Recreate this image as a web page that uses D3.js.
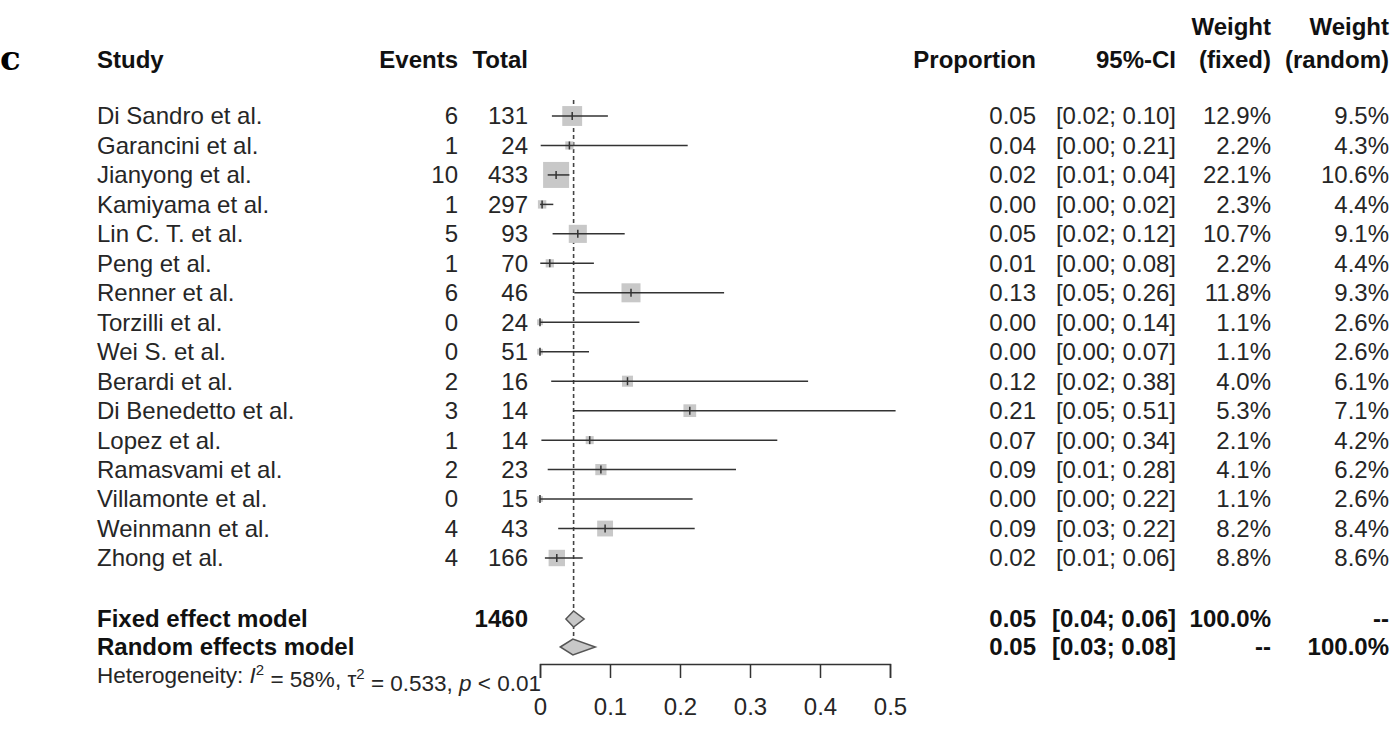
<!DOCTYPE html>
<html lang="en">
  <head>
    <meta charset="UTF-8" />
    <title>Forest plot</title>
    <script src="https://d3js.org/d3.v7.min.js"></script>
    <style>
      body {
        margin: 0;
        background: #fff;
        font-family: "Liberation Sans", Arial, sans-serif;
      }
      text {
        font-size: 24px;
        fill: #262626;
      }
      .bold {
        font-weight: bold;
        fill: #111;
      }
    </style>
  </head>
  <body>
    <svg id="chart" width="1392" height="737"></svg>
    <script>
      const studies = [
        "Di Sandro et al.", "Garancini et al.", "Jianyong et al.", "Kamiyama et al.",
        "Lin C. T. et al.", "Peng et al.", "Renner et al.", "Torzilli et al.",
        "Wei S. et al.", "Berardi et al.", "Di Benedetto et al.", "Lopez et al.",
        "Ramasvami et al.", "Villamonte et al.", "Weinmann et al.", "Zhong et al."
      ];
      const events = [6, 1, 10, 1, 5, 1, 6, 0, 0, 2, 3, 1, 2, 0, 4, 4];
      const totals = [131, 24, 433, 297, 93, 70, 46, 24, 51, 16, 14, 14, 23, 15, 43, 166];
      const proportion = [0.046, 0.042, 0.023, 0.003, 0.054, 0.014, 0.130, 0, 0, 0.125, 0.214, 0.071, 0.087, 0, 0.093, 0.024];
      const ciLower = [0.017, 0.001, 0.011, 0.0001, 0.018, 0.0004, 0.049, 0, 0, 0.016, 0.047, 0.002, 0.011, 0, 0.026, 0.007];
      const ciUpper = [0.097, 0.211, 0.042, 0.019, 0.121, 0.077, 0.263, 0.142, 0.070, 0.383, 0.508, 0.339, 0.280, 0.218, 0.221, 0.061];
      const propLabels = ["0.05", "0.04", "0.02", "0.00", "0.05", "0.01", "0.13", "0.00", "0.00", "0.12", "0.21", "0.07", "0.09", "0.00", "0.09", "0.02"];
      const ciLabels = [
        "[0.02; 0.10]", "[0.00; 0.21]", "[0.01; 0.04]", "[0.00; 0.02]", "[0.02; 0.12]",
        "[0.00; 0.08]", "[0.05; 0.26]", "[0.00; 0.14]", "[0.00; 0.07]", "[0.02; 0.38]",
        "[0.05; 0.51]", "[0.00; 0.34]", "[0.01; 0.28]", "[0.00; 0.22]", "[0.03; 0.22]", "[0.01; 0.06]"
      ];
      const weightFixed = [12.9, 2.2, 22.1, 2.3, 10.7, 2.2, 11.8, 1.1, 1.1, 4.0, 5.3, 2.1, 4.1, 1.1, 8.2, 8.8];
      const weightRandom = [9.5, 4.3, 10.6, 4.4, 9.1, 4.4, 9.3, 2.6, 2.6, 6.1, 7.1, 4.2, 6.2, 2.6, 8.4, 8.6];

      const models = ["Fixed effect model", "Random effects model"];
      const modelEst = [0.048, 0.047];
      const modelLower = [0.037, 0.029];
      const modelUpper = [0.063, 0.079];
      const modelProp = ["0.05", "0.05"];
      const modelCI = ["[0.04; 0.06]", "[0.03; 0.08]"];
      const modelWFixed = ["100.0%", "--"];
      const modelWRandom = ["--", "100.0%"];
      const totalN = 1460;
      const xTicks = [0, 0.1, 0.2, 0.3, 0.4, 0.5];

      const svg = d3.select("#chart");
      const fmtPct = (d) => d.toFixed(1) + "%";

      const x = d3.scaleLinear().domain([0, 0.5]).range([540, 890]);
      const rowY = d3.scaleLinear().domain([0, 15]).range([116, 558]);
      const modelY = d3.scalePoint().domain(models).range([619, 647]);
      const boxSize = d3.scaleSqrt().domain([0, 22.1]).range([0, 26]);

      // column edges (left for study, right for the rest)
      const col = { study: 97, events: 458, total: 528, prop: 1036, ci: 1176, wf: 1271, wr: 1389 };

      function txt(x0, y0, s, anchor, cls) {
        return svg.append("text")
          .attr("x", x0).attr("y", y0)
          .attr("dy", "0.35em")
          .attr("text-anchor", anchor || "start")
          .attr("class", cls || null)
          .text(s);
      }

      // panel letter
      svg.append("text")
        .attr("x", 0).attr("y", 70)
        .style("font-family", "'DejaVu Serif', serif")
        .style("font-weight", "bold")
        .style("font-size", "34px")
        .style("fill", "#000")
        .text("c");

      // headers
      txt(col.study, 60, "Study", "start", "bold");
      txt(col.events, 60, "Events", "end", "bold");
      txt(col.total, 60, "Total", "end", "bold");
      txt(col.prop, 60, "Proportion", "end", "bold");
      txt(col.ci, 60, "95%-CI", "end", "bold");
      txt(col.wf, 27, "Weight", "end", "bold");
      txt(col.wf, 60, "(fixed)", "end", "bold");
      txt(col.wr, 27, "Weight", "end", "bold");
      txt(col.wr, 60, "(random)", "end", "bold");

      // reference line at the pooled estimate
      svg.append("line")
        .attr("x1", x(modelEst[0])).attr("x2", x(modelEst[0]))
        .attr("y1", 100).attr("y2", modelY(models[1]))
        .attr("stroke", "#444").attr("stroke-width", 1.6)
        .attr("stroke-dasharray", "4,3");

      // study rows
      studies.forEach((s, i) => {
        const y0 = rowY(i);
        txt(col.study, y0, s);
        txt(col.events, y0, events[i], "end");
        txt(col.total, y0, totals[i], "end");
        txt(col.prop, y0, propLabels[i], "end");
        txt(col.ci, y0, ciLabels[i], "end");
        txt(col.wf, y0, fmtPct(weightFixed[i]), "end");
        txt(col.wr, y0, fmtPct(weightRandom[i]), "end");

        const b = boxSize(weightFixed[i]);
        svg.append("rect")
          .attr("x", x(proportion[i]) - b / 2)
          .attr("y", y0 - b / 2)
          .attr("width", b).attr("height", b)
          .attr("fill", "#c8c8c8");
        svg.append("line")
          .attr("x1", x(ciLower[i])).attr("x2", x(ciUpper[i]))
          .attr("y1", y0).attr("y2", y0)
          .attr("stroke", "#333").attr("stroke-width", 1.5);
        svg.append("line")
          .attr("x1", x(proportion[i])).attr("x2", x(proportion[i]))
          .attr("y1", y0 - 4).attr("y2", y0 + 4)
          .attr("stroke", "#333").attr("stroke-width", 1.5);
      });

      // pooled models
      models.forEach((m, i) => {
        const y0 = modelY(m);
        txt(col.study, y0, m, "start", "bold");
        txt(col.prop, y0, modelProp[i], "end", "bold");
        txt(col.ci, y0, modelCI[i], "end", "bold");
        txt(col.wf, y0, modelWFixed[i], "end", "bold");
        txt(col.wr, y0, modelWRandom[i], "end", "bold");
        const h = 8;
        svg.append("path")
          .attr("d", `M${x(modelLower[i])},${y0} L${x(modelEst[i])},${y0 - h} L${x(modelUpper[i])},${y0} L${x(modelEst[i])},${y0 + h} Z`)
          .attr("fill", "#c8c8c8")
          .attr("stroke", "#555").attr("stroke-width", 1.5);
      });
      txt(col.total, modelY(models[0]), totalN, "end", "bold");

      // heterogeneity
      const het = svg.append("text")
        .attr("x", col.study).attr("y", 675).attr("dy", "0.35em")
        .style("font-size", "22.5px");
      het.append("tspan").text("Heterogeneity: ");
      het.append("tspan").style("font-style", "italic").text("I");
      het.append("tspan").attr("dy", "-0.55em").style("font-size", "15px").text("2");
      het.append("tspan").attr("dy", "0.55em").text(" = 58%, \u03c4");
      het.append("tspan").attr("dy", "-0.55em").style("font-size", "15px").text("2");
      het.append("tspan").attr("dy", "0.55em").text(" = 0.533, ");
      het.append("tspan").style("font-style", "italic").text("p");
      het.append("tspan").text(" < 0.01");

      // axis
      const axis = svg.append("g")
        .attr("transform", "translate(0,664)")
        .call(d3.axisBottom(x).tickValues(xTicks).tickSize(14).tickPadding(20).tickFormat(d3.format("")));
      axis.select(".domain").attr("stroke", "#333").attr("stroke-width", 1.5);
      axis.selectAll(".tick line").attr("stroke", "#333").attr("stroke-width", 1.5);
      axis.selectAll(".tick text")
        .style("font-size", "24px")
        .style("font-family", "'Liberation Sans', Arial, sans-serif")
        .attr("fill", "#262626");
    </script>
  </body>
</html>
